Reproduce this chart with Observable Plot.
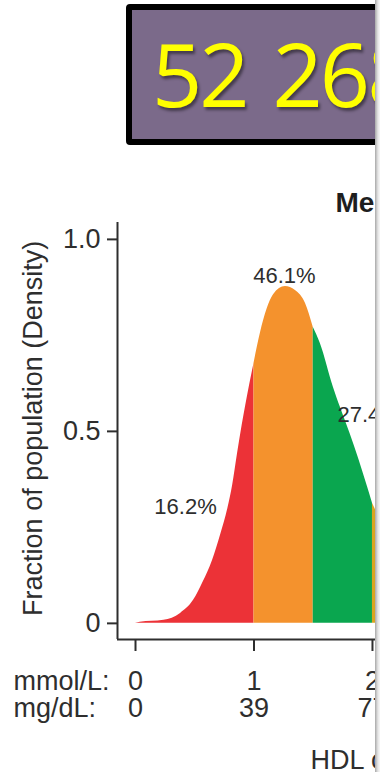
<!DOCTYPE html>
<html>
<head>
<meta charset="utf-8">
<script src="https://cdn.jsdelivr.net/npm/d3@7"></script>
<script src="https://cdn.jsdelivr.net/npm/@observablehq/plot@0.6"></script>
<style>
  html, body { margin: 0; padding: 0; background: #fff; }
  #page { position: relative; width: 376px; height: 772px; overflow: hidden; background: #fff; }
  #edge { position: absolute; left: 375px; top: 0; width: 5px; height: 772px;
          background: linear-gradient(to right, #a8a8a8, #e6e6e6 60%, #f7f7f7); }
  #titlebox { position: absolute; left: 126px; top: 4px; width: 320px; height: 141px;
              box-sizing: border-box; border: 6px solid #000; border-radius: 4px;
              background: #7B6A8A; }
  #titletext { position: absolute; left: 20px; top: 19px; white-space: pre;
               font-family: "Open Sans", sans-serif; font-size: 88px; line-height: 1;
               color: #FFFF00; letter-spacing: -3px; word-spacing: 6px;
               text-shadow: 2px 3px 3px rgba(0,0,0,0.45); }
  #chart { position: absolute; left: 0; top: 150px; }
</style>
</head>
<body>
<div id="page">
  <div id="titlebox"><div id="titletext">52 268</div></div>
  <div id="chart"></div>
</div>
<div id="edge"></div>
<script>
// HDL cholesterol (mmol/L) and density
const mmol    = [0, 0.04, 0.24, 0.38, 0.49, 0.57, 0.65, 0.72, 0.78, 0.82, 0.86, 0.90, 0.93, 1.0, 1.055, 1.11, 1.165, 1.265, 1.35, 1.435, 1.5, 1.56, 1.67, 1.73, 1.81, 1.96, 2.0, 2.05];
const density = [0, 0.003, 0.008, 0.026, 0.060, 0.107, 0.164, 0.232, 0.300, 0.360, 0.440, 0.515, 0.567, 0.677, 0.757, 0.818, 0.856, 0.877, 0.867, 0.833, 0.771, 0.729, 0.615, 0.562, 0.495, 0.354, 0.313, 0.28];

// colour bands (mmol/L limits)
const bandNames  = ["low", "mid", "high", "veryhigh"];
const bandLo     = [0, 1, 1.5, 2];
const bandHi     = [1, 1.5, 2, 2.05];
const bandColors = ["#EC3237", "#F4922D", "#0AA64F", "#D9A521"];

// percent labels
const pctLabels = ["16.2%", "46.1%", "27.4%"];
const pctX      = [0.422, 1.257, 1.705];
const pctY      = [0.302, 0.904, 0.542];

// axis tick labels
const yTicks      = [0, 0.5, 1];
const yTickLabels = ["0", "0.5", "1.0"];
const xTicks      = [0, 1, 2];
const mgLabels    = ["0", "39", "77"];

const xMin = -0.152, xMax = 2.034, yMin = -0.042, yMax = 1.044;
const font = "Liberation Sans, Arial, Helvetica, sans-serif";
const ink = "#2e2e2e";

const areaMarks = bandNames.map((b, i) => {
  const rows = mmol.map((x, j) => ({x, y: density[j]}))
                   .filter(d => d.x >= bandLo[i] - 1e-9 && d.x <= bandHi[i] + 1e-9);
  return Plot.areaY(rows, {x: "x", y: "y", fill: bandColors[i], curve: "monotone-x", clip: true});
});

const plot = Plot.plot({
  width: 376,
  height: 622,
  marginLeft: 117,
  marginRight: 0,
  marginTop: 72,
  marginBottom: 133,
  style: {fontFamily: font, background: "transparent", overflow: "visible"},
  x: {domain: [xMin, xMax], axis: null},
  y: {domain: [yMin, yMax], axis: null},
  marks: [
    ...areaMarks,
    // axis lines
    Plot.ruleX([xMin], {y1: yMin, y2: yMax, stroke: ink, strokeWidth: 2}),
    Plot.ruleY([yMin], {x1: xMin, x2: xMax, stroke: ink, strokeWidth: 2}),
    Plot.axisY({ticks: yTicks, tickFormat: (d, i) => yTickLabels[i], tickSize: 10, tickPadding: 7,
                fontSize: 27, stroke: ink, strokeWidth: 2, color: ink, anchor: "left", label: null}),
    Plot.axisX({ticks: xTicks, tickFormat: () => "", tickSize: 12, stroke: ink, strokeWidth: 2,
                anchor: "bottom", label: null}),
    // x tick label rows
    Plot.text(xTicks, {x: d => d, y: -0.151, text: d => String(d), fontSize: 27, fill: ink}),
    Plot.text(xTicks, {x: d => d, y: -0.221, text: (d, i) => mgLabels[i], fontSize: 27, fill: ink}),
    Plot.text(["mmol/L:"], {x: -1.03, y: -0.151, text: d => d, textAnchor: "start", fontSize: 27, fill: ink}),
    Plot.text(["mg/dL:"], {x: -1.03, y: -0.221, text: d => d, textAnchor: "start", fontSize: 27, fill: ink}),
    Plot.text(["HDL cholesterol"], {x: 1.477, y: -0.357, text: d => d, textAnchor: "start", fontSize: 27, fill: ink}),
    // y label
    Plot.text(["Fraction of population (Density)"], {x: -0.861, y: 0.508, text: d => d, rotate: -90, fontSize: 27, fill: ink}),
    // panel title
    Plot.text(["Men"], {x: 1.688, y: 1.096, text: d => d, textAnchor: "start", fontSize: 28, fontWeight: "bold", fill: "#1e1e1e"}),
    // percent labels
    Plot.text(pctLabels.slice(0, 2), {x: (d, i) => pctX[i], y: (d, i) => pctY[i], text: d => d,
      textAnchor: "middle", fontSize: 22, fill: ink}),
    Plot.text(pctLabels.slice(2), {x: pctX[2], y: pctY[2], text: d => d,
      textAnchor: "start", fontSize: 22, fill: ink})
  ]
});
document.getElementById("chart").appendChild(plot);
</script>
</body>
</html>
